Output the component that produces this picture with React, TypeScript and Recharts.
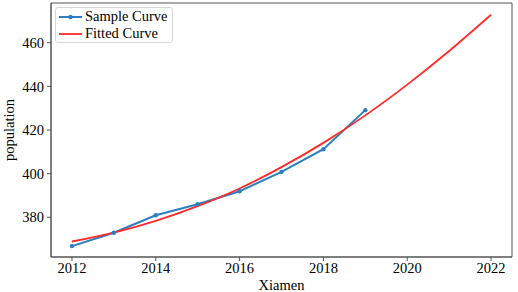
import { LineChart, Line, XAxis, YAxis, ReferenceArea } from 'recharts';

// values
const sampleYears = [2012, 2013, 2014, 2015, 2016, 2017, 2018, 2019];
const sampleValues = [366.8, 372.9, 380.9, 386.0, 391.9, 400.8, 411.2, 429.1];
const fitYears = [2012, 2013, 2014, 2015, 2016, 2017, 2018, 2019, 2020, 2021, 2022];
const fitValues = [368.9, 373.0, 378.4, 385.1, 393.2, 403.0, 414.1, 426.7, 440.8, 456.2, 472.8];
const xTicks = [2012, 2014, 2016, 2018, 2020, 2022];
const yTicks = [380, 400, 420, 440, 460];

const sampleData = sampleYears.map((year, i) => ({ year, value: sampleValues[i] }));
const fitData = fitYears.map((year, i) => ({ year, value: fitValues[i] }));

const X_DOMAIN: [number, number] = [2011.5, 2022.5];
const Y_DOMAIN: [number, number] = [361.8, 478.2];

const FONT = '"Times New Roman", "Liberation Serif", Times, serif';
const AXIS = '#555';
const BLUE = '#2b7fbf';
const RED = '#ff2a2a';

function LegendBox() {
  const row = (label: string, color: string, dot: boolean) => (
    <div style={{ display: 'flex', alignItems: 'center', height: 17 }}>
      <svg width={25} height={10} style={{ marginRight: 2 }}>
        <line x1={1} y1={5} x2={24} y2={5} stroke={color} strokeWidth={dot ? 2 : 1.8} />
        {dot && <circle cx={12.5} cy={5} r={2.2} fill={color} />}
      </svg>
      <span>{label}</span>
    </div>
  );
  return (
    <div
      style={{
        position: 'absolute',
        left: 55,
        top: 7,
        border: '1px solid #d6d6d6',
        borderRadius: 3,
        background: 'rgba(255,255,255,0.8)',
        padding: '0px 4px 0px 2px',
        fontFamily: FONT,
        fontSize: 14.5,
        color: '#000',
        lineHeight: '17px',
      }}
    >
      {row('Sample Curve', BLUE, true)}
      {row('Fitted Curve', RED, false)}
    </div>
  );
}

export default function App() {
  const tick = { fill: '#000', fontSize: 14.5, fontFamily: FONT };
  return (
    <div style={{ position: 'fixed', left: 0, top: 0, width: 518, height: 292, background: '#fff' }}>
      <LineChart width={518} height={292} margin={{ top: 3, right: 6, left: 0, bottom: 0 }}>
        <XAxis
          dataKey="year"
          type="number"
          domain={X_DOMAIN}
          ticks={xTicks}
          allowDuplicatedCategory={false}
          height={35}
          stroke={AXIS}
          tickSize={4}
          tickMargin={2}
          tick={tick}
          label={{ value: 'Xiamen', position: 'insideBottom', offset: 2, style: { fill: '#000', fontSize: 14.5, fontFamily: FONT } }}
        />
        <YAxis
          type="number"
          domain={Y_DOMAIN}
          ticks={yTicks}
          width={51}
          stroke={AXIS}
          tickSize={4}
          tickMargin={3}
          tick={tick}
          label={{ value: 'population', angle: -90, position: 'insideLeft', offset: 9, style: { textAnchor: 'middle', fill: '#000', fontSize: 14.5, fontFamily: FONT } }}
        />
        {/* full axes frame, like matplotlib's spines */}
        <ReferenceArea
          x1={X_DOMAIN[0]}
          x2={X_DOMAIN[1]}
          y1={Y_DOMAIN[0]}
          y2={Y_DOMAIN[1]}
          fill="none"
          fillOpacity={0}
          stroke={AXIS}
          strokeWidth={1}
        />
        <Line
          data={sampleData}
          dataKey="value"
          type="linear"
          stroke={BLUE}
          strokeWidth={2}
          dot={{ r: 2.2, fill: BLUE, stroke: BLUE, strokeWidth: 0 }}
          activeDot={false}
          isAnimationActive={false}
        />
        <Line
          data={fitData}
          dataKey="value"
          type="monotone"
          stroke={RED}
          strokeWidth={1.8}
          dot={false}
          activeDot={false}
          isAnimationActive={false}
        />
      </LineChart>
      <LegendBox />
    </div>
  );
}
